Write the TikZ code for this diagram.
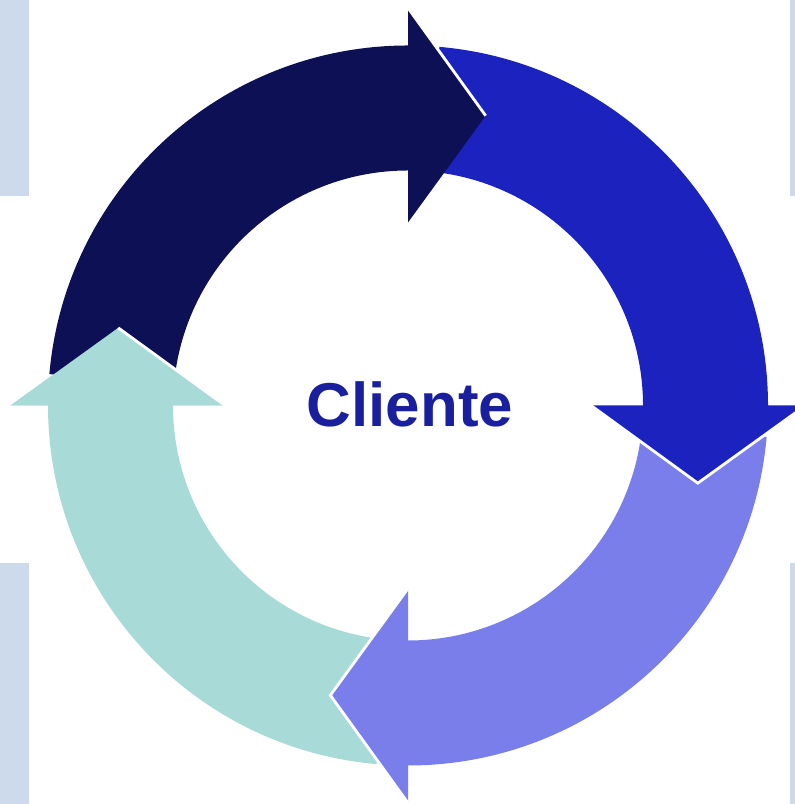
\documentclass[tikz,border=0pt]{standalone}
\usepackage{fontspec}
\setmainfont{Liberation Sans}
\definecolor{cyclenavy}{HTML}{0D1055}
\definecolor{cycleblue}{HTML}{1B22BD}
\definecolor{cyclelilac}{HTML}{797EEA}
\definecolor{cycleteal}{HTML}{A8DBD8}
\definecolor{sidebar}{HTML}{CDDAEB}
\definecolor{labelblue}{HTML}{1A1F9E}

\begin{document}
\begin{tikzpicture}[x=0.01cm, y=0.01cm,
                    whiteedge/.style={draw=white, line width=0.8pt},
                    centre label/.style={text=labelblue, font=\bfseries\fontsize{17.6}{21}\selectfont}]
  \useasboundingbox (-408,-398.5) rectangle (387,405.5);
  % pale bars at the sides
  \fill[sidebar] (-408,405.5) rectangle (-379.3,209.8);
  \fill[sidebar] (-408,-157.2) rectangle (-379.3,-398.5);
  \fill[sidebar] (382,405.5) rectangle (387,209.8);
  \fill[sidebar] (382,-157.2) rectangle (387,-398.5);
  % the four arrows, each from its tail clockwise to its head
  \foreach \h/\col in {180/cycleteal, 270/cyclelilac, 360/cycleblue, 450/cyclenavy}
    \fill[\col] ({\h+85}:360) arc[start angle=\h+85, end angle=\h, radius=360]
      -- (\h:397.5) -- ({\h-15}:300) -- (\h:183) -- (\h:235)
      arc[start angle=\h, end angle=\h+85, radius=235] -- cycle;
  % teal head once more, over the navy tail
  \fill[cycleteal] (180:397.5) -- (165:300) -- (180:183) -- cycle;
  % white seams along the heads
  \draw[whiteedge] (90:397.5) -- (75:300);
  \draw[whiteedge] (0:397.5) -- (-15:300) -- (0:183);
  \draw[whiteedge] (270:397.5) -- (255:300) -- (270:183);
  \draw[whiteedge] (165:300) -- (180:183);
  \node[centre label] (client) at (2,1.5) {Cliente};
\end{tikzpicture}
\end{document}
